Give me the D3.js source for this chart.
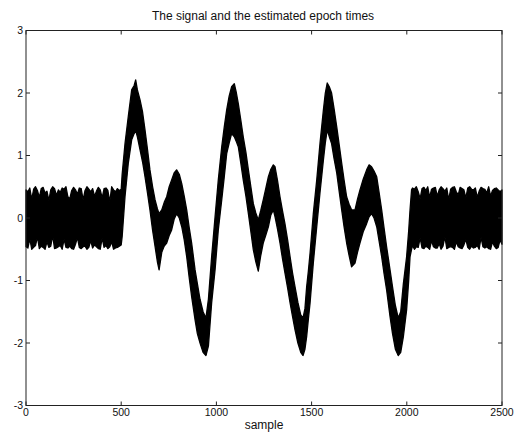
<!DOCTYPE html>
<html>
<head>
<meta charset="utf-8">
<script src="https://cdn.jsdelivr.net/npm/d3@7"></script>
<style>
  body { margin: 0; background: #fff; }
  svg { display: block; }
  text { font-family: "Liberation Sans", Arial, sans-serif; fill: #111; }
</style>
</head>
<body>
<svg id="chart" width="516" height="436"></svg>
<script>
// chart text and ticks
var title = "The signal and the estimated epoch times";
var xLabel = "sample";
var xTicks = [0, 500, 1000, 1500, 2000, 2500];
var yTicks = [-3, -2, -1, 0, 1, 2, 3];

// noise before the epochs: envelope read every 10 samples from 0
var headUpper = [0.45,0.42,0.48,0.30,0.46,0.50,0.44,0.33,0.47,0.49,0.40,0.43,0.28,0.45,0.50,0.47,0.36,0.45,0.41,0.48,
                 0.46,0.50,0.34,0.31,0.44,0.49,0.45,0.38,0.48,0.47,0.29,0.44,0.50,0.46,0.42,0.47,0.35,0.43,0.49,0.45,
                 0.32,0.47,0.48,0.44,0.26,0.50,0.45,0.42,0.47,0.44,0.46];
var headLower = [-0.46,-0.48,-0.33,-0.50,-0.47,-0.44,-0.30,-0.49,-0.45,-0.47,-0.50,-0.38,-0.47,-0.45,-0.28,-0.49,-0.48,-0.46,-0.44,-0.50,
                 -0.34,-0.47,-0.48,-0.45,-0.49,-0.50,-0.42,-0.31,-0.47,-0.49,-0.46,-0.45,-0.50,-0.47,-0.36,-0.48,-0.43,-0.46,-0.49,-0.50,
                 -0.32,-0.47,-0.44,-0.49,-0.46,-0.38,-0.50,-0.48,-0.47,-0.45,-0.43];

// the epochs: sample, upper and lower edge of the trace
var midSample = [505,520,537,555,568,576,585,599,612,625,638,651,665,678,690,699,713,726,739,752,765,778,791,805,818,831,844,857,870,888,
                 900,914,930,945,958,975,993,1010,1028,1041,1054,1067,1080,1094,1105,1115,1128,1141,1155,1168,1181,1194,1207,1220,1233,1246,1260,1273,1286,1299,
                 1308,1321,1334,1347,1360,1374,1387,1400,1413,1428,1443,1455,1465,1474,1483,1492,1509,1527,1544,1562,1572,1582,1593,1605,1618,1632,1645,1658,1671,1684,
                 1697,1710,1728,1741,1754,1771,1789,1802,1815,1828,1842,1855,1868,1881,1894,1912,1925,1940,1955,1968,1982,1999,2010,2017,2025];
var midUpper = [0.70,1.19,1.62,2.05,2.12,2.21,2.05,1.89,1.70,1.41,1.10,0.77,0.50,0.29,0.15,0.07,0.13,0.25,0.34,0.50,0.61,0.72,0.77,0.70,0.55,0.35,0.13,-0.15,-0.40,-0.83,
                -1.05,-1.30,-1.50,-1.60,-1.30,-0.62,0.02,0.61,1.14,1.45,1.73,1.95,2.10,2.15,2.00,1.83,1.57,1.30,1.05,0.77,0.50,0.23,0.08,-0.03,0.12,0.29,0.48,0.66,0.78,0.85,
                0.82,0.60,0.34,0.12,-0.09,-0.35,-0.62,-0.88,-1.10,-1.35,-1.55,-1.60,-1.45,-1.10,-0.85,-0.56,0.07,0.61,1.19,1.73,2.00,2.16,2.10,2.00,1.75,1.46,1.17,0.88,0.60,0.34,
                0.22,0.13,0.13,0.30,0.45,0.62,0.77,0.85,0.82,0.75,0.66,0.40,0.13,-0.17,-0.46,-0.83,-1.10,-1.40,-1.60,-1.50,-1.05,-0.62,-0.20,0.13,0.45];
var midLower = [-0.30,0.34,0.87,1.25,1.35,1.40,1.30,1.09,0.90,0.66,0.40,0.13,-0.20,-0.46,-0.70,-0.83,-0.55,-0.45,-0.40,-0.28,-0.19,-0.02,0.07,0.00,-0.14,-0.35,-0.62,-0.95,-1.26,-1.63,
                -1.85,-2.00,-2.15,-2.20,-2.05,-1.36,-0.83,-0.19,0.29,0.65,1.03,1.20,1.35,1.30,1.22,1.14,0.88,0.61,0.35,0.07,-0.22,-0.51,-0.70,-0.85,-0.60,-0.40,-0.27,-0.14,0.05,0.13,
                0.02,-0.18,-0.40,-0.65,-0.88,-1.12,-1.36,-1.58,-1.79,-2.00,-2.15,-2.20,-2.10,-1.90,-1.62,-1.36,-0.72,-0.14,0.40,0.93,1.20,1.41,1.30,1.19,0.95,0.72,0.42,0.13,-0.15,-0.40,
                -0.60,-0.78,-0.72,-0.55,-0.40,-0.22,-0.09,0.02,0.07,0.00,-0.14,-0.38,-0.62,-0.90,-1.15,-1.58,-1.85,-2.10,-2.20,-2.15,-1.90,-1.47,-1.00,-0.62,-0.50];

// noise after the epochs: envelope read every 10 samples from 2030
var tailUpper = [0.48,0.46,0.50,0.42,0.31,0.47,0.49,0.44,0.50,0.33,0.46,0.48,0.49,0.35,0.45,0.50,0.47,0.43,0.48,0.29,
                 0.46,0.49,0.50,0.42,0.37,0.49,0.47,0.45,0.32,0.48,0.50,0.46,0.45,0.48,0.33,0.43,0.49,0.47,0.46,0.40,
                 0.50,0.35,0.44,0.47,0.48,0.45,0.42,0.45];
var tailLower = [-0.44,-0.50,-0.46,-0.47,-0.32,-0.48,-0.49,-0.45,-0.47,-0.50,-0.36,-0.46,-0.48,-0.48,-0.41,-0.50,-0.45,-0.30,-0.49,-0.47,
                 -0.46,-0.47,-0.50,-0.38,-0.46,-0.48,-0.49,-0.43,-0.34,-0.47,-0.50,-0.45,-0.48,-0.47,-0.44,-0.50,-0.31,-0.46,-0.48,-0.46,
                 -0.49,-0.50,-0.38,-0.45,-0.49,-0.47,-0.35,-0.42];

var trace = [];
headUpper.forEach(function(v, i) { trace.push({s: i * 10, hi: v, lo: headLower[i]}); });
midSample.forEach(function(s, i) { trace.push({s: s, hi: midUpper[i], lo: midLower[i]}); });
tailUpper.forEach(function(v, i) { trace.push({s: 2030 + i * 10, hi: v, lo: tailLower[i]}); });

var svg = d3.select("#chart");
var plotLeft = 26, plotRight = 502, plotTop = 30.5, plotBottom = 405.5;

var x = d3.scaleLinear().domain([0, 2500]).range([plotLeft, plotRight]);
var y = d3.scaleLinear().domain([-3, 3]).range([plotBottom, plotTop]);

// the trace, drawn as the band the noisy signal fills
var band = d3.area()
    .x(function(d) { return x(d.s); })
    .y0(function(d) { return y(d.lo); })
    .y1(function(d) { return y(d.hi); });

svg.append("path")
    .datum(trace)
    .attr("d", band)
    .attr("fill", "#000")
    .attr("stroke", "#000")
    .attr("stroke-width", 1.3)
    .attr("stroke-linejoin", "round");

// box with inward ticks on all four sides
svg.append("rect")
    .attr("x", plotLeft).attr("y", plotTop)
    .attr("width", plotRight - plotLeft).attr("height", plotBottom - plotTop)
    .attr("fill", "none").attr("stroke", "#222").attr("stroke-width", 1);

var tk = 4;
svg.append("g").selectAll("line").data(xTicks).enter().append("line")
    .attr("x1", function(d) { return x(d); }).attr("x2", function(d) { return x(d); })
    .attr("y1", plotBottom).attr("y2", plotBottom - tk)
    .attr("stroke", "#222");
svg.append("g").selectAll("line").data(xTicks).enter().append("line")
    .attr("x1", function(d) { return x(d); }).attr("x2", function(d) { return x(d); })
    .attr("y1", plotTop).attr("y2", plotTop + tk)
    .attr("stroke", "#222");
svg.append("g").selectAll("line").data(yTicks).enter().append("line")
    .attr("x1", plotLeft).attr("x2", plotLeft + tk)
    .attr("y1", function(d) { return y(d); }).attr("y2", function(d) { return y(d); })
    .attr("stroke", "#222");
svg.append("g").selectAll("line").data(yTicks).enter().append("line")
    .attr("x1", plotRight).attr("x2", plotRight - tk)
    .attr("y1", function(d) { return y(d); }).attr("y2", function(d) { return y(d); })
    .attr("stroke", "#222");

svg.append("g").selectAll("text").data(xTicks).enter().append("text")
    .attr("x", function(d) { return x(d); })
    .attr("y", plotBottom + 10.5)
    .attr("text-anchor", "middle")
    .style("font-size", "10.5px")
    .text(function(d) { return d; });

svg.append("g").selectAll("text").data(yTicks).enter().append("text")
    .attr("x", plotLeft - 3)
    .attr("y", function(d) { return y(d) + 3.5; })
    .attr("text-anchor", "end")
    .style("font-size", "10.5px")
    .text(function(d) { return d; });

svg.append("text")
    .attr("x", 263).attr("y", 20)
    .attr("text-anchor", "middle")
    .style("font-size", "12px")
    .text(title);

svg.append("text")
    .attr("x", 264).attr("y", 429)
    .attr("text-anchor", "middle")
    .style("font-size", "12px")
    .text(xLabel);
</script>
</body>
</html>
